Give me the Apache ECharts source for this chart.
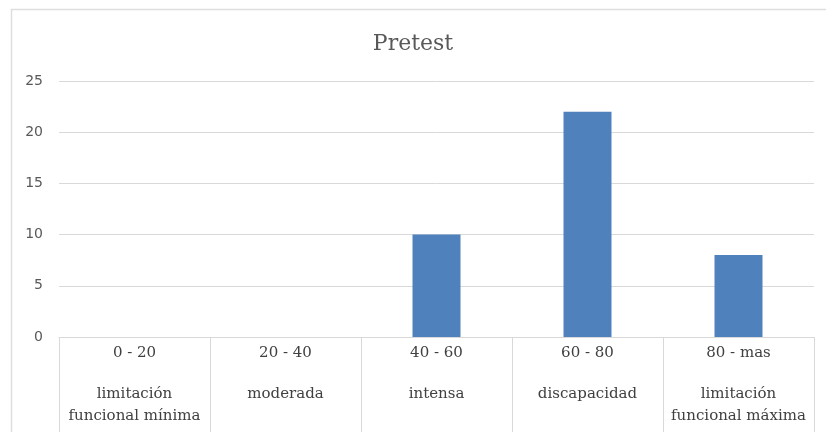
<!DOCTYPE html>
<html>
<head>
<meta charset="utf-8">
<style>
  html, body { margin: 0; padding: 0; background: #ffffff; }
  #chart { width: 826px; height: 432px; }
</style>
<script src="https://cdn.jsdelivr.net/npm/echarts@6/dist/echarts.min.js"></script>
</head>
<body>
<div id="chart"></div>
<script>
// Score ranges and their level names (two-row category labels)
const ranges = ['0 - 20', '20 - 40', '40 - 60', '60 - 80', '80 - mas'];
const levels = [
  ['limitación', 'funcional mínima'],
  ['moderada'],
  ['intensa'],
  ['discapacidad'],
  ['limitación', 'funcional máxima']
];
// Number of participants per range
const pretest = [0, 0, 10, 22, 8];
const yTicks = [0, 5, 10, 15, 20, 25];

const serif = '"DejaVu Serif", "Liberation Serif", serif';
const gridColor = '#d9d9d9';
const textColor = '#595959';

const categories = ranges.map((r, i) => i);

const chart = echarts.init(document.getElementById('chart'), null, { renderer: 'canvas' });

chart.setOption({
  backgroundColor: '#ffffff',
  animation: false,
  title: {
    text: 'Pretest',
    left: 'center',
    top: 28,
    textStyle: { fontFamily: serif, fontSize: 22, fontWeight: 'normal', color: textColor }
  },
  graphic: [{
    type: 'rect',
    left: 9,
    top: 7,
    shape: { width: 900, height: 500 },
    style: { fill: 'none', stroke: '#dedede', lineWidth: 1.5 },
    silent: true,
    z: 0
  }],
  grid: { left: 59, right: 12, top: 81, bottom: 95 },
  xAxis: {
    type: 'category',
    data: categories,
    boundaryGap: true,
    axisLine: { show: true, lineStyle: { color: gridColor, width: 1 } },
    axisTick: { show: true, length: 95, lineStyle: { color: gridColor, width: 1 } },
    axisLabel: {
      interval: 0,
      margin: 5,
      verticalAlign: 'top',
      formatter: function (v) {
        const i = Number(v);
        const lines = ['{a|' + ranges[i] + '}', '{s| }'];
        levels[i].forEach(t => lines.push('{b|' + t + '}'));
        return lines.join('\n');
      },
      rich: {
        a: { fontFamily: serif, fontSize: 15, color: '#404040', lineHeight: 22, align: 'center' },
        s: { fontSize: 2, lineHeight: 19 },
        b: { fontFamily: serif, fontSize: 15, color: '#404040', lineHeight: 22, align: 'center' }
      }
    }
  },
  yAxis: {
    type: 'value',
    min: yTicks[0],
    max: yTicks[yTicks.length - 1],
    interval: 5,
    axisLine: { show: false },
    axisTick: { show: false },
    axisLabel: {
      margin: 16,
      fontFamily: '"DejaVu Sans", sans-serif',
      fontSize: 14,
      color: textColor
    },
    splitLine: { show: true, lineStyle: { color: gridColor, width: 1 } }
  },
  series: [{
    type: 'bar',
    data: pretest,
    barWidth: 48,
    itemStyle: { color: '#4f81bd' }
  }]
});
</script>
</body>
</html>
